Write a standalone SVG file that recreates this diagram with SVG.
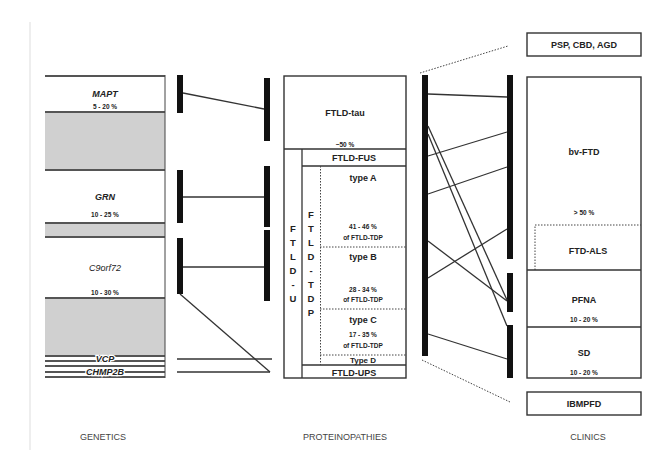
<svg xmlns="http://www.w3.org/2000/svg" width="660" height="457" viewBox="0 0 660 457">
<style>
text{font-family:"Liberation Sans",Arial,sans-serif;fill:#222;text-anchor:middle}
.b{font-weight:bold;font-size:9px}
.it{font-style:italic;font-weight:bold;font-size:9px}
.p{font-weight:bold;font-size:6.5px}
.v{font-weight:bold;font-size:9.5px}
.h{font-size:9px;fill:#444}
.halo{stroke:#fff;stroke-width:2.5;paint-order:stroke;font-weight:bold}
.ln{stroke:#333;stroke-width:1.3;fill:none}
.bar{fill:#111}
.box{fill:#fff;stroke:#333;stroke-width:1.4}
.gl{stroke:#555;stroke-width:2}
.dot{stroke:#444;stroke-width:1;stroke-dasharray:1.5 1.5;fill:none}
</style>
<line x1="30" y1="22" x2="30" y2="450" stroke="#ddd" stroke-width="1"/>
<g id="genetics">
<rect x="45" y="75" width="120" height="303" fill="#fff"/>
<rect x="45" y="112" width="120" height="58" fill="#d0d0d0"/>
<rect x="45" y="223" width="120" height="14" fill="#d0d0d0"/>
<rect x="45" y="298" width="120" height="57" fill="#d0d0d0"/>
<line class="gl" x1="45" y1="76" x2="165" y2="76"/>
<line class="gl" x1="45" y1="112" x2="165" y2="112"/>
<line class="gl" x1="45" y1="170" x2="165" y2="170"/>
<line class="gl" x1="45" y1="223" x2="165" y2="223"/>
<line class="gl" x1="45" y1="237" x2="165" y2="237"/>
<line class="gl" x1="45" y1="298" x2="165" y2="298"/>
<line class="gl" x1="45" y1="356" x2="165" y2="356"/>
<line class="gl" x1="45" y1="361" x2="165" y2="361"/>
<line class="gl" x1="45" y1="366" x2="165" y2="366"/>
<line class="gl" x1="45" y1="372" x2="165" y2="372"/>
<line class="gl" x1="45" y1="377" x2="165" y2="377"/>
<line x1="165" y1="75" x2="165" y2="378" stroke="#444" stroke-width="1"/>
<text class="it" x="105" y="97">MAPT</text>
<text class="p" x="105" y="109">5 - 20 %</text>
<text class="it" x="105" y="200">GRN</text>
<text class="p" x="105" y="217">10 - 25 %</text>
<text class="it" x="105" y="271" style="font-weight:normal">C9orf72</text>
<text class="p" x="105" y="295">10 - 30 %</text>
<text class="it halo" x="105" y="362">VCP</text>
<text class="it halo" x="105" y="375">CHMP2B</text>
<text class="h" x="103" y="440">GENETICS</text>
</g>
<g id="genbars">
<rect class="bar" x="177" y="75" width="6" height="38"/>
<rect class="bar" x="177" y="170" width="6" height="53"/>
<rect class="bar" x="177" y="238" width="6" height="56"/>
<rect class="bar" x="264" y="78" width="6" height="63"/>
<rect class="bar" x="264" y="166" width="6" height="61"/>
<rect class="bar" x="264" y="230" width="6" height="71"/>
</g>
<g id="proteinopathies">
<rect class="box" x="284" y="76" width="122" height="302"/>
<line class="ln" x1="284" y1="149" x2="406" y2="149"/>
<line class="ln" x1="302" y1="149" x2="302" y2="378"/>
<line class="ln" x1="302" y1="166" x2="406" y2="166"/>
<line class="ln" x1="302" y1="365" x2="406" y2="365"/>
<line class="dot" x1="320.5" y1="166" x2="320.5" y2="365"/>
<line class="dot" x1="320" y1="247" x2="406" y2="247"/>
<line class="dot" x1="320" y1="309" x2="406" y2="309"/>
<line class="dot" x1="320" y1="355" x2="406" y2="355"/>
<text class="b" x="345" y="116">FTLD-tau</text>
<text class="p" x="345" y="147">~50 %</text>
<text class="b" x="354" y="161">FTLD-FUS</text>
<text class="b" x="363" y="181">type A</text>
<text class="p" x="363" y="229">41 - 46 %</text>
<text class="p" x="363" y="240">of FTLD-TDP</text>
<text class="b" x="363" y="260">type B</text>
<text class="p" x="363" y="292">28 - 34 %</text>
<text class="p" x="363" y="302">of FTLD-TDP</text>
<text class="b" x="363" y="323">type C</text>
<text class="p" x="363" y="337">17 - 35 %</text>
<text class="p" x="363" y="348">of FTLD-TDP</text>
<text class="b" x="363" y="363" style="font-size:8px">Type D</text>
<text class="b" x="354" y="376">FTLD-UPS</text>
<g class="v">
<text class="v" x="293" y="232">F</text>
<text class="v" x="293" y="246">T</text>
<text class="v" x="293" y="260">L</text>
<text class="v" x="293" y="274">D</text>
<text class="v" x="293" y="288">-</text>
<text class="v" x="293" y="302">U</text>
<text class="v" x="311" y="218">F</text>
<text class="v" x="311" y="232">T</text>
<text class="v" x="311" y="246">L</text>
<text class="v" x="311" y="260">D</text>
<text class="v" x="311" y="274">-</text>
<text class="v" x="311" y="288">T</text>
<text class="v" x="311" y="302">D</text>
<text class="v" x="311" y="316">P</text>
</g>
<text class="h" x="345" y="440">PROTEINOPATHIES</text>
</g>
<g id="clinbars">
<rect class="bar" x="422" y="75" width="6" height="281"/>
<rect class="bar" x="507" y="75" width="6" height="184"/>
<rect class="bar" x="507" y="273" width="6" height="39"/>
<rect class="bar" x="507" y="325" width="6" height="53"/>
</g>
<g id="clinics">
<g id="psp"><rect class="box" x="527" y="33" width="114" height="23" stroke-width="2"/>
<text class="b" x="584" y="48">PSP, CBD, AGD</text></g>
<g id="bvftd"><rect class="box" x="527" y="77" width="114" height="301"/>
<text class="b" x="584" y="155">bv-FTD</text>
<text class="p" x="584" y="215">&gt; 50 %</text></g>
<g id="ftdals"><polyline class="dot" points="535,270 535,225 641,225"/>
<text class="b" x="588" y="254">FTD-ALS</text></g>
<g id="pfna"><line class="ln" x1="527" y1="270" x2="641" y2="270"/>
<text class="b" x="584" y="303">PFNA</text>
<text class="p" x="584" y="322">10 - 20 %</text></g>
<g id="sd"><line class="ln" x1="527" y1="327" x2="641" y2="327"/>
<text class="b" x="584" y="356">SD</text>
<text class="p" x="584" y="375">10 - 20 %</text></g>
<g id="ibmpfd"><rect class="box" x="527" y="392" width="114" height="23"/>
<text class="b" x="584" y="407">IBMPFD</text></g>
<text class="h" x="588" y="440">CLINICS</text>
</g>
<g id="connectors">
<line class="ln" x1="183" y1="93" x2="264" y2="109"/>
<line class="ln" x1="183" y1="197" x2="264" y2="197"/>
<line class="ln" x1="183" y1="267" x2="264" y2="267"/>
<line class="ln" x1="180" y1="294" x2="270" y2="372"/>
<line class="ln" x1="177" y1="359" x2="272" y2="359"/>
<line class="ln" x1="177" y1="372" x2="270" y2="372"/>
<line class="ln" x1="428" y1="94" x2="507" y2="97"/>
<line class="ln" x1="428" y1="156" x2="507" y2="132"/>
<line class="ln" x1="428" y1="194" x2="507" y2="167"/>
<line class="ln" x1="428" y1="126" x2="507" y2="300"/>
<line class="ln" x1="428" y1="134" x2="507" y2="326"/>
<line class="ln" x1="428" y1="241" x2="507" y2="301"/>
<line class="ln" x1="428" y1="278" x2="507" y2="229"/>
<line class="ln" x1="428" y1="334" x2="507" y2="359"/>
<line class="dot" x1="420" y1="73" x2="508" y2="46"/>
<line class="dot" x1="422" y1="360" x2="510" y2="402"/>
</g>
</svg>
